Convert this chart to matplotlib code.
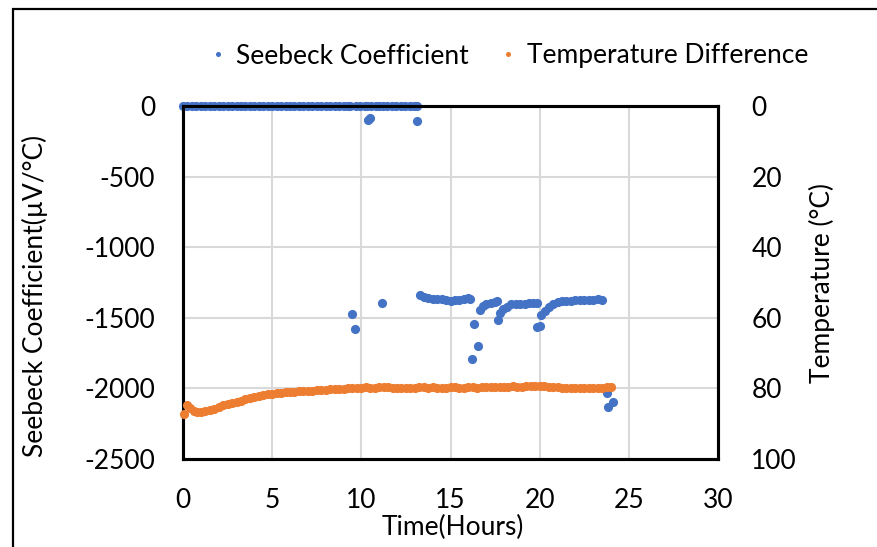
import matplotlib
matplotlib.use("Agg")
import matplotlib.pyplot as plt
from matplotlib.patches import Rectangle

plt.rcParams['font.family'] = ['Lato', 'DejaVu Sans']
plt.rcParams['axes.unicode_minus'] = False

BLUE = '#4472C4'
ORANGE = '#ED7D31'
GRID = '#d9d9d9'

# Seebeck coefficient readings (hours, uV/C)
seebeck_hours = [
    0.0, 0.25, 0.5, 0.75, 1.0, 1.25, 1.5, 1.75, 2.0, 2.25, 2.5, 2.75, 3.0,
    3.25, 3.5, 3.75, 4.0, 4.25, 4.5, 4.75, 5.0, 5.25, 5.5, 5.75, 6.0, 6.25,
    6.5, 6.75, 7.0, 7.25, 7.5, 7.75, 8.0, 8.25, 8.5, 8.75, 9.0, 9.25, 9.35,
    9.46, 9.64,
    9.7, 9.95, 10.2, 10.3, 10.4, 10.5, 10.55, 10.8, 11.0, 11.14,
    11.2, 11.45, 11.7, 11.95, 12.2, 12.45, 12.7, 12.95, 13.1, 13.1,
    13.3, 13.5, 13.75, 14.0, 14.25, 14.5, 14.75, 15.0, 15.25, 15.5, 15.75,
    16.0, 16.1, 16.18, 16.33, 16.52,
    16.65, 16.8, 17.0, 17.25, 17.5, 17.58, 17.68,
    17.77, 17.95, 18.15, 18.4, 18.65, 18.9, 19.15, 19.4, 19.65, 19.83,
    19.83, 20.0,
    20.1, 20.3, 20.5, 20.75, 21.0, 21.25, 21.5, 21.75, 22.0, 22.25, 22.5,
    22.75, 23.0, 23.25, 23.5,
    23.75, 23.85, 24.1,
]
seebeck_values = [
    0, 0, 0, 0, 0, 0, 0, 0, 0, 0, 0, 0, 0,
    0, 0, 0, 0, 0, 0, 0, 0, 0, 0, 0, 0, 0,
    0, 0, 0, 0, 0, 0, 0, 0, 0, 0, 0, 0, 0,
    -1475, -1582,
    0, 0, 0, 0, -99, -85, 0, 0, 0, -1393,
    0, 0, 0, 0, 0, 0, 0, 0, 0, -106,
    -1340, -1352, -1360, -1365, -1368, -1368, -1372, -1380, -1375, -1372, -1366,
    -1362, -1365, -1792, -1546, -1700,
    -1445, -1415, -1400, -1392, -1385, -1383, -1516,
    -1468, -1440, -1420, -1405, -1402, -1400, -1400, -1398, -1397, -1397,
    -1563, -1556,
    -1480, -1450, -1425, -1405, -1390, -1383, -1380, -1378, -1377, -1375, -1373,
    -1372, -1372, -1370, -1375,
    -2035, -2134, -2094,
]

# temperature difference across the sample (hours, C)
temp_hours = [
    0.05, 0.2, 0.4, 0.6, 0.8, 1.0, 1.25, 1.5, 1.75, 2.0, 2.25, 2.5, 2.75,
    3.0, 3.25, 3.5, 3.75, 4.0, 4.25, 4.5, 4.75, 5.0, 5.25, 5.5, 5.75, 6.0,
    6.25, 6.5, 6.75, 7.0, 7.25, 7.5, 7.75, 8.0, 8.25, 8.5, 8.75, 9.0, 9.25,
    9.5, 9.75, 10.0, 10.25, 10.5, 10.75, 11.0, 11.25, 11.5, 11.75, 12.0,
    12.25, 12.5, 12.75, 13.0, 13.25, 13.5, 13.75, 14.0, 14.25, 14.5, 14.75,
    15.0, 15.25, 15.5, 15.75, 16.0, 16.25, 16.5, 16.75, 17.0, 17.25, 17.5,
    17.75, 18.0, 18.25, 18.5, 18.75, 19.0, 19.25, 19.5, 19.75, 20.0, 20.25,
    20.5, 20.75, 21.0, 21.25, 21.5, 21.75, 22.0, 22.25, 22.5, 22.75, 23.0,
    23.25, 23.5, 23.75, 24.0,
]
temp_values = [
    87.3, 84.7, 85.6, 86.3, 86.6, 86.6, 86.4, 86.1, 85.7, 85.2, 84.8, 84.4, 84.1,
    83.8, 83.5, 83.1, 82.8, 82.5, 82.2, 82.0, 81.7, 81.5, 81.3, 81.2, 81.1, 81.0,
    80.9, 80.8, 80.7, 80.6, 80.6, 80.5, 80.5, 80.4, 80.3, 80.3, 80.2, 80.1, 80.0,
    80.0, 79.9, 79.8, 79.7, 79.8, 79.8, 79.7, 79.6, 79.7, 79.8, 79.9,
    79.9, 80.0, 79.9, 79.8, 79.7, 79.7, 79.8, 79.7, 79.8, 79.9, 79.8,
    79.7, 79.7, 79.8, 79.8, 79.7, 79.7, 79.8, 79.7, 79.6, 79.7, 79.7,
    79.6, 79.6, 79.5, 79.4, 79.5, 79.5, 79.4, 79.3, 79.4, 79.3, 79.4,
    79.5, 79.6, 79.7, 79.8, 79.9, 80.0, 79.9, 79.9, 80.0, 79.9, 79.8,
    79.9, 79.8, 79.7, 79.6,
]

x_ticks = [0, 5, 10, 15, 20, 25, 30]
left_ticks = [0, -500, -1000, -1500, -2000, -2500]
right_ticks = [0, 20, 40, 60, 80, 100]

FS = 19

fig = plt.figure(figsize=(8.77, 5.47), dpi=100)
ax = fig.add_axes([0.2087, 0.1609, 0.61, 0.6453])
ax2 = ax.twinx()

ax.set_xlim(0, 30)
ax.set_ylim(-2500, 0)
ax2.set_ylim(100, 0)
ax.set_xticks(x_ticks)
ax.set_yticks(left_ticks)
ax2.set_yticks(right_ticks)

ax.grid(True, color=GRID, linewidth=1.5)
ax.set_axisbelow(True)

for a in (ax, ax2):
    for sp in a.spines.values():
        sp.set_linewidth(2.2)
        sp.set_color('black')

ax.tick_params(axis='both', length=0, labelsize=FS)
ax.tick_params(axis='y', pad=20)
ax.tick_params(axis='x', pad=21)
ax2.tick_params(axis='y', length=0, labelsize=FS, pad=24)

ms = 6.6
l1, = ax.plot(seebeck_hours, seebeck_values, 'o', color=BLUE, ms=ms,
              mew=0, clip_on=False, zorder=3, label='Seebeck Coefficient')
l2, = ax2.plot(temp_hours, temp_values, 'o', color=ORANGE, ms=ms,
               mew=0, clip_on=False, zorder=3, label='Temperature Difference')

fig.text(453 / 877, 1 - 527 / 547, 'Time(Hours)', ha='center', va='center',
         fontsize=FS)
fig.text(35 / 877, 1 - 296 / 547, 'Seebeck Coefficient(\u00b5V/\u00b0C)',
         ha='center', va='center', rotation=90, fontsize=FS)
fig.text(822 / 877, 1 - 283 / 547, 'Temperature (\u00b0C)', ha='center',
         va='center', rotation=90, fontsize=FS)

fig.legend(handles=[l1, l2], loc='center', ncol=2,
           bbox_to_anchor=(509 / 877, 1 - 56 / 547), frameon=False,
           fontsize=FS, markerscale=0.55, handlelength=0.6, handletextpad=0.4,
           columnspacing=1.2)

# chart area frame, right and bottom edges run off the canvas
fig.patches.append(Rectangle((13 / 877, -0.2), 1.5, 1.2 - 9 / 547,
                             transform=fig.transFigure, fill=False,
                             edgecolor='black', linewidth=1.6, zorder=10))

fig.savefig('out.png', dpi=100)
